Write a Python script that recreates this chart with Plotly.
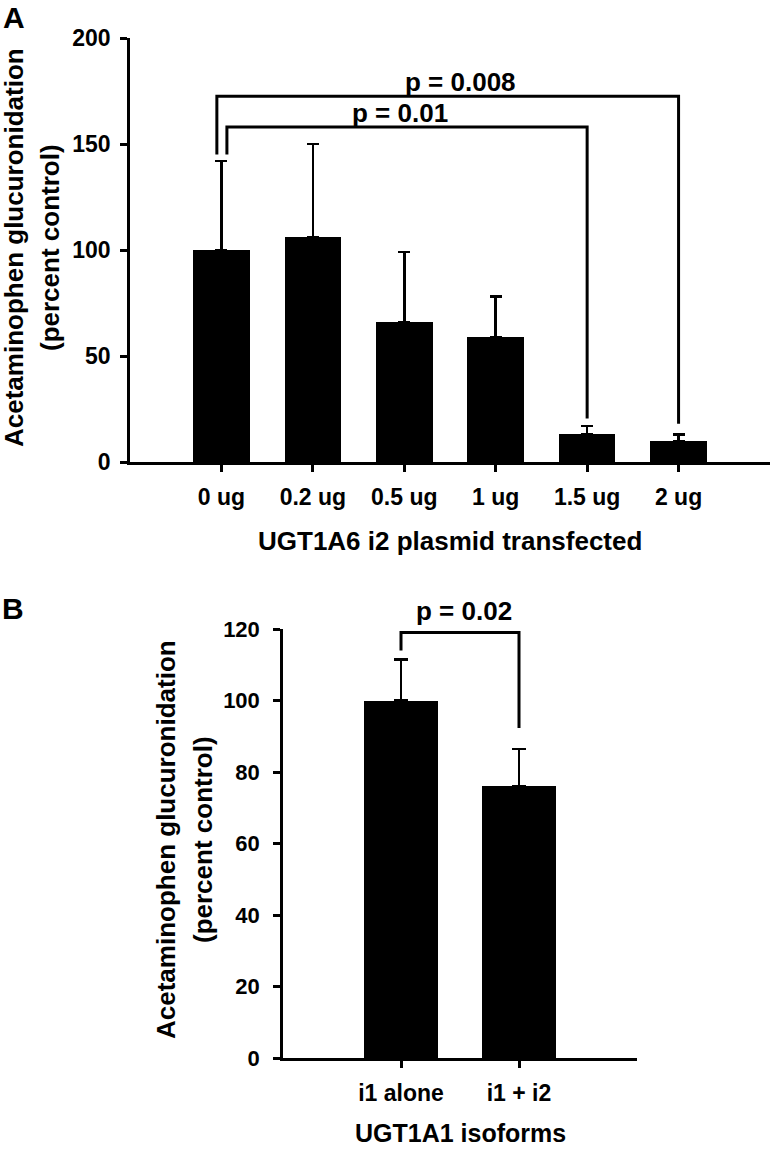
import plotly.graph_objects as go
import numpy as np

# ---------------- data ----------------
doses = ["0 ug", "0.2 ug", "0.5 ug", "1 ug", "1.5 ug", "2 ug"]
gluc_a = [100, 106, 66, 59, 13, 10]
err_a = [42, 44, 33, 19, 4, 3]

pval_a = ["p = 0.008", "p = 0.01"]
pair_a = [(0, 5), (0, 4)]
bracket_top_a = [172.5, 158]
bracket_left_end_a = [145, 145]
bracket_right_end_a = [18, 20.5]
bracket_left_off_a = [-0.05, 0.06]
label_xshift_a = [10, -4]

isoforms = ["i1 alone", "i1 + i2"]
gluc_b = [100, 76]
err_b = [11.5, 10.5]

pval_b = ["p = 0.02"]
pair_b = [(0, 1)]
bracket_top_b = [119]
bracket_left_end_b = [114]
bracket_right_end_b = [92.3]
bracket_left_off_b = [0.0]
label_xshift_b = [4]

ytitle_1 = "Acetaminophen glucuronidation"
ytitle_2 = "(percent control)"
xtitle_a = "UGT1A6 i2 plasmid transfected"
xtitle_b = "UGT1A1 isoforms"

# ---------------- figure ----------------
W, H = 773, 1149
FONT = "Liberation Sans, Arial, sans-serif"

def px_x(p):
    return p / W

def px_y(p):
    return 1 - p / H

fig = go.Figure()

xa = np.arange(len(doses))
xb = np.arange(len(isoforms))

fig.add_trace(go.Bar(
    x=xa, y=gluc_a, width=0.62, marker=dict(color="black", line=dict(width=0)),
    error_y=dict(type="data", symmetric=False, array=err_a, arrayminus=[0] * len(err_a),
                 color="black", thickness=2.5, width=6),
    xaxis="x", yaxis="y", showlegend=False))

fig.add_trace(go.Bar(
    x=xb, y=gluc_b, width=0.62, marker=dict(color="black", line=dict(width=0)),
    error_y=dict(type="data", symmetric=False, array=err_b, arrayminus=[0] * len(err_b),
                 color="black", thickness=2.5, width=7),
    xaxis="x2", yaxis="y2", showlegend=False))

def add_brackets(pairs, tops, lefts, rights, offs, xax, yax):
    for (i, j), top, le, re, off in zip(pairs, tops, lefts, rights, offs):
        fig.add_trace(go.Scatter(
            x=[i + off, i + off, j, j],
            y=[le, top, top, re],
            mode="lines", line=dict(color="black", width=3),
            xaxis=xax, yaxis=yax, showlegend=False, hoverinfo="skip",
            cliponaxis=False))

add_brackets(pair_a, bracket_top_a, bracket_left_end_a, bracket_right_end_a,
             bracket_left_off_a, "x", "y")
add_brackets(pair_b, bracket_top_b, bracket_left_end_b, bracket_right_end_b,
             bracket_left_off_b, "x2", "y2")

PFONT = dict(family=FONT, size=26, color="black", weight="bold")
annotations = []
for lab, (i, j), top, xs in zip(pval_a, pair_a, bracket_top_a, label_xshift_a):
    annotations.append(dict(text=lab, x=(i + j) / 2, y=top, xref="x", yref="y",
                            xshift=xs, yshift=-3, showarrow=False,
                            xanchor="center", yanchor="bottom", font=PFONT))
for lab, (i, j), top, xs in zip(pval_b, pair_b, bracket_top_b, label_xshift_b):
    annotations.append(dict(text=lab, x=(i + j) / 2, y=top, xref="x2", yref="y2",
                            xshift=xs, yshift=5, showarrow=False,
                            xanchor="center", yanchor="bottom", font=PFONT))

def txt(text, x, y, size, bold=True, angle=0):
    return dict(text=text, x=px_x(x), y=px_y(y), xref="paper", yref="paper",
                showarrow=False, xanchor="center", yanchor="middle", textangle=angle,
                font=dict(family=FONT, size=size, color="black",
                          weight="bold" if bold else "normal"))

annotations += [
    txt(ytitle_1, 14, 248, 26, True, -90),
    txt(ytitle_2, 50, 248, 26, True, -90),
    txt(ytitle_1, 166, 840, 26, True, -90),
    txt(ytitle_2, 203, 840, 26, True, -90),
    txt(xtitle_a, 450, 541, 26),
    txt(xtitle_b, 461, 1133, 25),
    txt("A", 14, 18, 30),
    txt("B", 13, 608, 30),
]

axis_common = dict(showline=True, linecolor="black", linewidth=2.5, ticks="outside",
                   tickcolor="black", tickwidth=2.5, ticklen=7, showgrid=False,
                   zeroline=False, mirror=False, automargin=False)

fig.update_layout(
    width=W, height=H, margin=dict(l=0, r=0, t=0, b=0, pad=0, autoexpand=False),
    paper_bgcolor="white", plot_bgcolor="white",
    bargap=0, showlegend=False,
    xaxis=dict(domain=[px_x(130), px_x(770)], range=[-1, 6], anchor="y",
               tickvals=list(xa), ticktext=doses, ticklabelstandoff=6,
               tickfont=dict(family=FONT, size=23, color="black", weight="bold"),
               **axis_common),
    yaxis=dict(domain=[px_y(462), px_y(38)], range=[0, 200], anchor="x",
               tickvals=[0, 50, 100, 150, 200], ticklabelstandoff=5,
               tickfont=dict(family=FONT, size=23, color="black", weight="bold"),
               **axis_common),
    xaxis2=dict(domain=[px_x(283), px_x(637)], range=[-1, 2], anchor="y2",
                tickvals=list(xb), ticktext=isoforms, ticklabelstandoff=6,
                tickfont=dict(family=FONT, size=23, color="black", weight="bold"),
                **axis_common),
    yaxis2=dict(domain=[px_y(1058), px_y(629)], range=[0, 120], anchor="x2",
                tickvals=[0, 20, 40, 60, 80, 100, 120], ticklabelstandoff=9,
                tickfont=dict(family=FONT, size=22, color="black", weight="bold"),
                **axis_common),
    annotations=annotations,
)

fig.write_html("out.html", config={"displayModeBar": False},
               post_script="document.body.style.margin='0';document.body.style.overflow='hidden';")
